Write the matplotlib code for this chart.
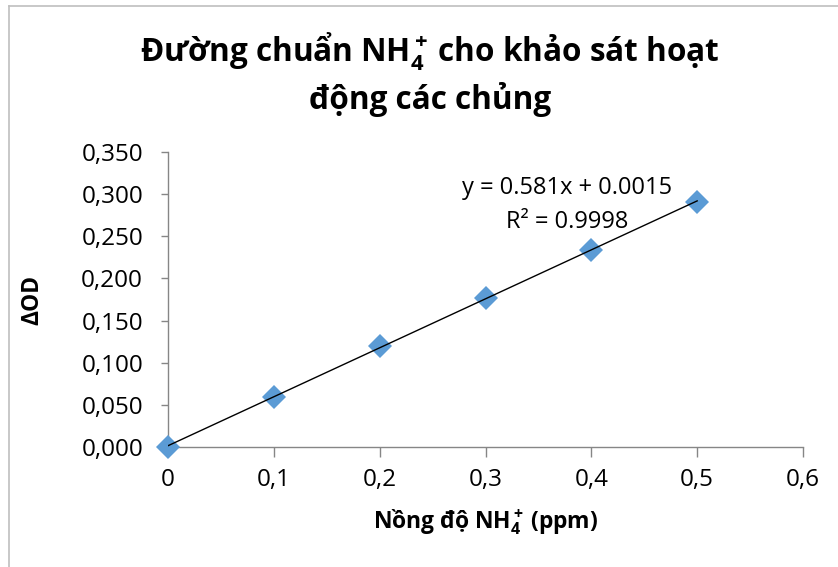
#!/usr/bin/env python3
"""Standard curve NH4+ (Excel-style scatter with linear trendline)."""

import matplotlib
matplotlib.use("Agg")
import matplotlib.pyplot as plt
from matplotlib.lines import Line2D

FONT = "Open Sans"
plt.rcParams["font.family"] = [FONT, "DejaVu Sans"]
plt.rcParams["mathtext.fontset"] = "custom"
plt.rcParams["mathtext.rm"] = f"{FONT}:bold"
plt.rcParams["mathtext.it"] = f"{FONT}:bold"
plt.rcParams["mathtext.bf"] = f"{FONT}:bold"

BLUE = "#5B9BD5"
AXIS_GRAY = "#868686"

conc = [0.0, 0.1, 0.2, 0.3, 0.4, 0.5]
delta_od = [0.000, 0.059, 0.120, 0.177, 0.234, 0.291]

slope = 0.581
intercept = 0.0015
r_squared = 0.9998

x_ticks = [0.0, 0.1, 0.2, 0.3, 0.4, 0.5, 0.6]
x_tick_labels = ["0", "0,1", "0,2", "0,3", "0,4", "0,5", "0,6"]
y_ticks = [0.0, 0.05, 0.10, 0.15, 0.20, 0.25, 0.30, 0.35]
y_tick_labels = ["0,000", "0,050", "0,100", "0,150", "0,200", "0,250", "0,300", "0,350"]

TITLE = "Đường chuẩn NH$_4^+\\,$cho khảo sát hoạt\nđộng các chủng"
XLABEL = "Nồng độ NH$_4^+\\,$(ppm)"
YLABEL = "ΔOD"


def main() -> None:
    W, H = 838, 567
    fig = plt.figure(figsize=(W / 100, H / 100), dpi=100)
    ax = fig.add_axes([168 / W, 1 - 447 / H, (803 - 168) / W, (447 - 152) / H])

    # chart-area border (only left and top visible in the crop)
    fig.add_artist(Line2D([9 / W, 9 / W], [0, 1 - 6 / H], transform=fig.transFigure,
                          color="#BFBFBF", lw=1.2))
    fig.add_artist(Line2D([9 / W, 1], [1 - 6 / H, 1 - 6 / H], transform=fig.transFigure,
                          color="#BFBFBF", lw=1.2))

    ax.plot(conc, delta_od, linestyle="none", marker="D", ms=12,
            color=BLUE, markeredgewidth=0, zorder=3, clip_on=False)
    fit_x = [conc[0], conc[-1]]
    fit_y = [slope * x + intercept for x in fit_x]
    ax.plot(fit_x, fit_y, color="black", lw=1.0, zorder=4)

    ax.set_xlim(0, 0.6)
    ax.set_ylim(0, 0.35)
    ax.set_xticks(x_ticks)
    ax.set_xticklabels(x_tick_labels)
    ax.set_yticks(y_ticks)
    ax.set_yticklabels(y_tick_labels)

    for side in ("top", "right"):
        ax.spines[side].set_visible(False)
    for side in ("left", "bottom"):
        ax.spines[side].set_color(AXIS_GRAY)
        ax.spines[side].set_linewidth(1.0)
    ax.tick_params(axis="both", direction="out", color=AXIS_GRAY, width=1.0,
                   labelsize=17.5, labelcolor="black")
    ax.tick_params(axis="x", length=7, pad=8)
    ax.tick_params(axis="y", length=5, pad=13)

    ax.set_xlabel(XLABEL, fontsize=16.5, fontweight="bold")
    ax.xaxis.label.set_va("center")
    ax.xaxis.set_label_coords(0.5, -0.254)
    ax.set_ylabel(YLABEL, fontsize=16.5, fontweight="bold")
    ax.yaxis.label.set_va("center")
    ax.yaxis.set_label_coords(-0.214, 0.5)

    fig.text(430 / W, 1 - 74 / H, TITLE, ha="center", va="center", fontsize=22.7,
             fontweight="bold", linespacing=1.3)

    ax.text(0.377, 0.3073, f"y = {slope}x + {intercept}", ha="center", va="center",
            fontsize=17)
    ax.text(0.377, 0.267, f"R² = {r_squared}", ha="center", va="center", fontsize=17)

    fig.savefig("out.png", dpi=100, facecolor="white")
    plt.close(fig)


if __name__ == "__main__":
    main()
